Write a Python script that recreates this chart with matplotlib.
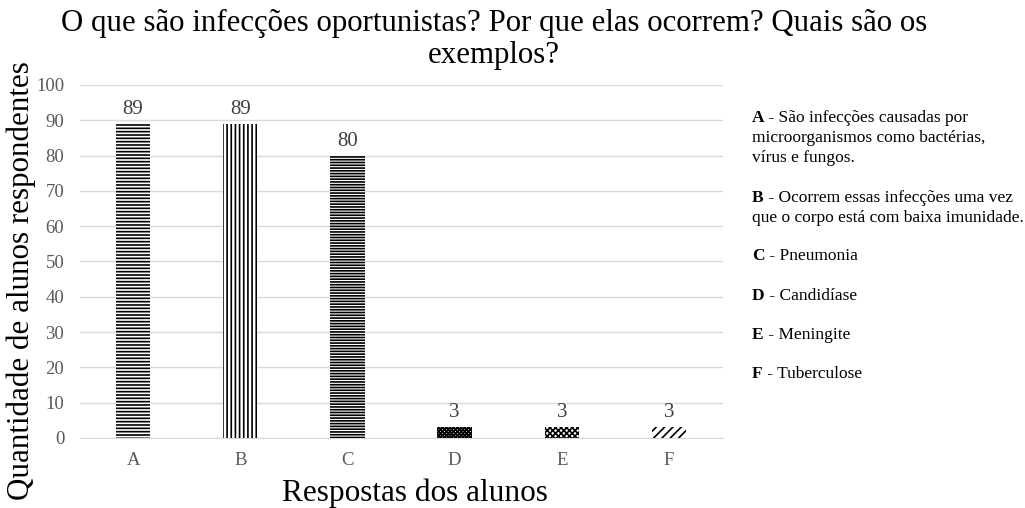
import matplotlib.pyplot as plt
import numpy as np

# dados do grafico
categorias = ['A', 'B', 'C', 'D', 'E', 'F']
valores = [89, 89, 80, 3, 3, 3]
hachuras = ['-----', '||||', '------', 'xxxxxxxxx', 'xxxxxx', '////']

legenda_letras = ['A', 'B', 'C', 'D', 'E', 'F']
legenda_textos = [
    [' - São infecções causadas por', 'microorganismos como bactérias,', 'vírus e fungos.'],
    [' - Ocorrem essas infecções uma vez', 'que o corpo está com baixa imunidade.'],
    [' - Pneumonia'],
    [' - Candidíase'],
    [' - Meningite'],
    [' - Tuberculose'],
]

plt.rcParams['font.family'] = ['Liberation Serif', 'DejaVu Serif']
plt.rcParams['hatch.linewidth'] = 1.2

fig = plt.figure(figsize=(10.25, 5.08), dpi=100)
ax = fig.add_axes([0.0776, 0.1378, 0.6273, 0.6949])

x = np.arange(len(categorias))
barras = ax.bar(x, valores, width=0.32, color='white', edgecolor='black', linewidth=0, zorder=3)
for b, h in zip(barras, hachuras):
    b.set_hatch(h)

for xi, v in zip(x, valores):
    ax.text(xi, v + 1.4, str(v), ha='center', va='bottom', fontsize=15, color='#404040')

ax.set_xlim(-0.5, len(categorias) - 0.5)
ax.set_ylim(0, 100)
ax.set_yticks(range(0, 101, 10))
ax.set_xticks(x)
ax.set_xticklabels(categorias)
ax.tick_params(axis='both', length=0, labelsize=13.5, labelcolor='#595959')
ax.tick_params(axis='y', pad=11)
ax.tick_params(axis='x', pad=10)
ax.yaxis.grid(True, color='#d9d9d9', linewidth=1, zorder=0)
ax.set_axisbelow(True)
for s in ['top', 'right', 'left']:
    ax.spines[s].set_visible(False)
ax.spines['bottom'].set_color('#d9d9d9')

ax.set_ylabel('Quantidade de alunos respondentes', fontsize=22.3)
ax.yaxis.set_label_coords(-0.068, 0.447)
ax.set_xlabel('Respostas dos alunos', fontsize=22.5, labelpad=4)
ax.xaxis.set_label_coords(0.522, -0.115)
fig.suptitle('O que são infecções oportunistas? Por que elas ocorrem? Quais são os\nexemplos?',
             fontsize=22.2, y=0.982, x=0.482, linespacing=1.13)

# legenda em texto ao lado
ys = [118, 198, 256, 296, 335, 374]
for letra, linhas, yp in zip(legenda_letras, legenda_textos, ys):
    t = fig.text(752 / 1025, 1 - yp / 508, letra, fontsize=12.5, fontweight='bold', va='center')
    ax.annotate(linhas[0], xy=(1, 0.5), xycoords=t, va='center', ha='left', fontsize=12.5,
                annotation_clip=False)
    for i, ln in enumerate(linhas[1:]):
        fig.text(752 / 1025, 1 - (yp + 20 * (i + 1)) / 508, ln, fontsize=12.5, va='center')

fig.savefig('out.png', dpi=100)
